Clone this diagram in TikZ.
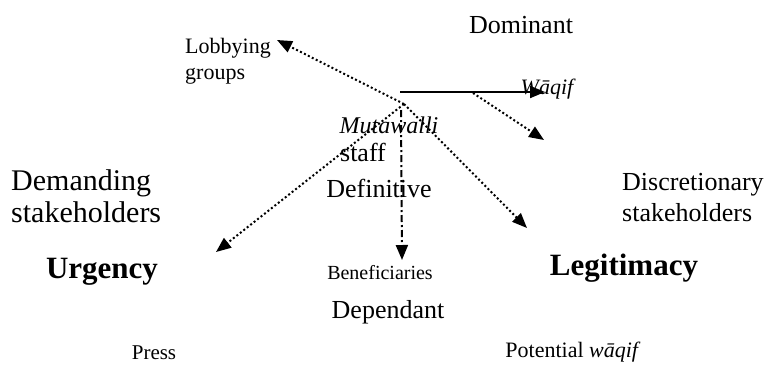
\documentclass[tikz,border=0pt]{standalone}
\usepackage{fontspec}
\setmainfont{Liberation Serif}
\usetikzlibrary{arrows.meta}
\begin{document}
\begin{tikzpicture}[x=1pt,y=-1pt,
  lbl/.style={inner sep=0pt,font=\fontsize{26}{31}\selectfont},
  small/.style={inner sep=0pt,font=\fontsize{21}{25}\selectfont},
  big/.style={inner sep=0pt,font=\fontsize{31}{36}\selectfont\bfseries},
  tip/.style={-{Triangle[length=15pt,width=12pt]}},
  dotline/.style={tip,line width=2pt,dash pattern=on 2pt off 2.4pt},
  dashdotline/.style={tip,line width=2pt,dash pattern=on 7pt off 3pt on 2pt off 3pt},
  solidline/.style={tip,line width=2pt}]
\useasboundingbox (0,0) rectangle (768,365);

% labels
\node[lbl] (dominant) at (521,25) {Dominant};
\node[inner sep=0pt,font=\fontsize{22}{26}\selectfont,align=left,anchor=west] (lobby) at (185,61) {Lobbying\\groups};
\node[inner sep=0pt,font=\fontsize{22}{26}\selectfont\itshape] (waqif) at (547,89) {Wāqif};
\node[inner sep=0pt,font=\fontsize{24}{28}\selectfont\itshape] (mut) at (389,125) {Mutawalli};
\node[lbl] (staff) at (363,152) {staff};
\node[lbl] (definitive) at (379,188) {Definitive};
\node[inner sep=0pt,font=\fontsize{30}{32}\selectfont,align=left,anchor=west] (demanding) at (11,196) {Demanding\\stakeholders};
\node[lbl,align=left,anchor=west] (discretionary) at (622,198) {Discretionary\\stakeholders};
\node[big] (urgency) at (102,272) {Urgency};
\node[big] (legit) at (624,268) {Legitimacy};
\node[inner sep=0pt,font=\fontsize{20}{24}\selectfont] (benef) at (380,273) {Beneficiaries};
\node[lbl] (dependant) at (388,312) {Dependant};
\node[small] (press) at (154,353) {Press};
\node[inner sep=0pt,font=\fontsize{22}{26}\selectfont] (potential) at (573,352) {Potential \textit{wāqif}};

% connector end points
\coordinate (hub) at (404,104);
\coordinate (lobbytip) at (277,40);
\coordinate (solidstart) at (400,92);
\coordinate (waqiftip) at (545,92);
\coordinate (branch) at (473,93);
\coordinate (disctip) at (544,140);
\coordinate (legittip) at (527,228);
\coordinate (urgtip) at (216,252);
\coordinate (vstart) at (401,110);
\coordinate (beneftip) at (402,260);

% connectors
\draw[solidline] (solidstart) -- (waqiftip);
\draw[dotline] (branch) -- (disctip);
\draw[dotline] (hub) -- (lobbytip);
\draw[dotline] (hub) -- (legittip);
\draw[dotline] (hub) -- (urgtip);
\draw[dashdotline] (vstart) -- (beneftip);
\end{tikzpicture}
\end{document}
